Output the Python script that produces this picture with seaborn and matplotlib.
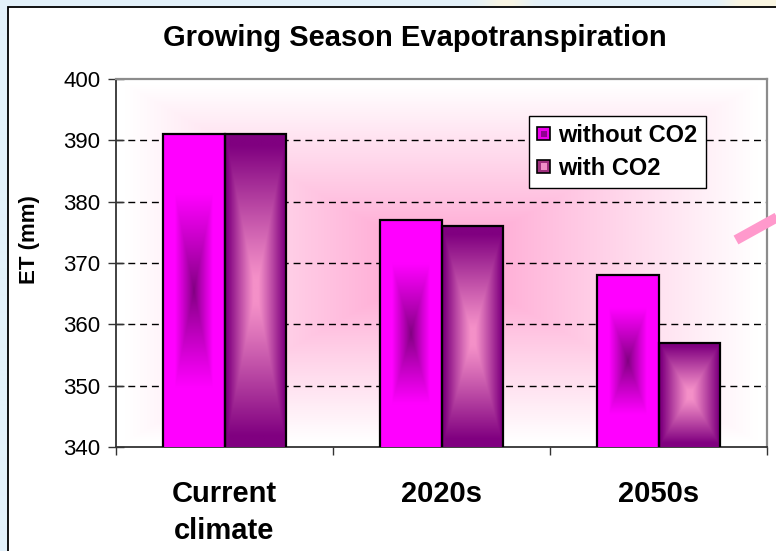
import numpy as np
import pandas as pd
import matplotlib
matplotlib.use("Agg")
import matplotlib.pyplot as plt
import matplotlib.colors as mcolors
import seaborn as sns
from matplotlib.patches import Rectangle
from matplotlib.lines import Line2D
from matplotlib.legend_handler import HandlerBase

# ---- data -------------------------------------------------------------
periods = ["Current\nclimate", "2020s", "2050s"]
scenarios = ["without CO2", "with CO2"]
et_without_co2 = [391, 377, 368]
et_with_co2 = [391, 376, 357]
y_ticks = [340, 350, 360, 370, 380, 390, 400]

# fill colours: (centre, edge) of each bar's box gradient
fill_without = ("#800080", "#FF00FF")
fill_with = ("#F490C8", "#800080")

plt.rcParams["font.family"] = ["Liberation Sans", "DejaVu Sans"]

W, H = 776, 551
fig = plt.figure(figsize=(W / 100, H / 100), dpi=100)
fig.patch.set_facecolor("white")

# ---- slide backdrop and chart frame ----------------------------------
bg = fig.add_axes([0, 0, 1, 1], zorder=-10)
bg.set_xlim(0, W)
bg.set_ylim(H, 0)
bg.axis("off")
xs = np.arange(W)
base = np.array([227, 241, 250]) / 255
warm = np.array([255, 247, 222]) / 255
wgt = 0.8 * np.exp(-((xs - 505) / 22.0) ** 2) + np.clip((xs - 715) / 25.0, 0, 1) * 0.85
wgt = np.clip(wgt, 0, 1)
strip = base[None, :] * (1 - wgt[:, None]) + warm[None, :] * wgt[:, None]
bg.imshow(strip[None, :, :], extent=(0, W, H, 0), aspect="auto", interpolation="bilinear")
bg.add_patch(Rectangle((8, 7), W + 20, H + 20, facecolor="white",
                       edgecolor="black", lw=1.3))


def box_t(nx, ny):
    gx = np.abs(np.linspace(-1, 1, nx))
    gy = np.abs(np.linspace(-1, 1, ny))
    return np.maximum(gx[None, :], gy[:, None])


def blend(c0, c1, s):
    a = np.array(mcolors.to_rgb(c0))
    b = np.array(mcolors.to_rgb(c1))
    return a + (b - a) * s[..., None]


# ---- plot area --------------------------------------------------------
ax = fig.add_axes([116 / W, 1 - 447 / H, (767 - 116) / W, (447 - 79) / H])
ax.set_facecolor("white")

t_bg = box_t(400, 300)
ax.imshow(blend("#FF99CC", "#FFFFFF", np.clip(t_bg / 0.97, 0, 1) ** 0.9),
          extent=(-0.5, 2.5, y_ticks[0], y_ticks[-1]), aspect="auto",
          interpolation="bilinear", zorder=0, origin="lower")

df = pd.DataFrame({
    "period": periods * 2,
    "scenario": [s for s in scenarios for _ in periods],
    "et": et_without_co2 + et_with_co2,
})

sns.barplot(data=df, x="period", y="et", hue="scenario", order=periods,
            hue_order=scenarios, width=0.57, palette=["#FF00FF", "#993399"],
            saturation=1, edgecolor="black", linewidth=1.6, legend=False,
            ax=ax, zorder=3)

ymin = y_ticks[0]
for container, (c_mid, c_edge), shaping in zip(
        ax.containers, [fill_without, fill_with],
        [lambda t: np.clip(t / 0.62, 0, 1) ** 0.9,
         lambda t: np.clip((t - 0.08) / 0.85, 0, 1) ** 1.1]):
    for bar in container:
        x0 = bar.get_x()
        w = bar.get_width()
        top = bar.get_y() + bar.get_height()
        ny = max(int(6 * (top - ymin)), 20)
        t = box_t(80, ny)
        ax.imshow(blend(c_mid, c_edge, shaping(t)),
                  extent=(x0, x0 + w, ymin, top), aspect="auto",
                  interpolation="bilinear", zorder=2.9, origin="lower")
        bar.set_facecolor("none")

for v in y_ticks[1:-1]:
    ax.axhline(v, color="black", lw=1.0, linestyle=(0, (5, 3.5)), zorder=1.5)

ax.set_xlim(-0.5, 2.5)
ax.set_ylim(y_ticks[0], y_ticks[-1])
ax.set_xlabel("")
ax.set_ylabel("")

ax.set_yticks(y_ticks)
ax.set_yticklabels([str(v) for v in y_ticks])
ax.tick_params(axis="y", direction="inout", length=11.5, width=1.0,
               color="#333333", labelsize=16, pad=5.5)

ax.set_xticks([-0.5, 0.5, 1.5, 2.5])
ax.set_xticklabels([])
ax.set_xticks([0, 1, 2], minor=True)
ax.set_xticklabels(periods, minor=True, fontsize=21, fontweight="bold",
                   linespacing=1.4)
ax.tick_params(axis="x", which="major", direction="out", length=6, width=1.0,
               color="#333333")
ax.tick_params(axis="x", which="minor", length=0, pad=24)

for side in ("left", "bottom"):
    ax.spines[side].set_color("#333333")
    ax.spines[side].set_linewidth(1.3)
for side in ("top", "right"):
    ax.spines[side].set_color("#8C8C8C")
    ax.spines[side].set_linewidth(1.6)

# ---- legend -------------------------------------------------------------
class GradSquare(HandlerBase):
    def __init__(self, outer, inner):
        super().__init__()
        self.outer = outer
        self.inner = inner

    def create_artists(self, legend, orig_handle, xdescent, ydescent,
                       width, height, fontsize, trans):
        s = min(width, height)
        x0 = -xdescent + (width - s) / 2
        y0 = -ydescent + (height - s) / 2
        outer = Rectangle((x0, y0), s, s, facecolor=self.outer,
                          edgecolor="black", lw=1.2, transform=trans)
        k = s * 0.5
        inner = Rectangle((x0 + (s - k) / 2, y0 + (s - k) / 2), k, k,
                          facecolor=self.inner, edgecolor="none",
                          transform=trans)
        return [outer, inner]


h_without = Rectangle((0, 0), 1, 1)
h_with = Rectangle((0, 0), 1, 1)
leg = ax.legend([h_without, h_with], scenarios,
                handler_map={h_without: GradSquare("#EE00EE", "#900090"),
                             h_with: GradSquare("#A0307F", "#F090C8")},
                loc="upper left", bbox_to_anchor=(529 / W, 1 - 116 / H),
                bbox_transform=fig.transFigure, borderaxespad=0,
                frameon=True, fancybox=False, edgecolor="black",
                framealpha=1, prop={"weight": "bold", "size": 17},
                handlelength=0.55, handleheight=0.55, handletextpad=0.35,
                borderpad=0.35, labelspacing=0.4)
leg.get_frame().set_linewidth(1.0)
leg.set_zorder(6)

# ---- titles ----------------------------------------------------------
fig.text(415 / W, 1 - 46 / H, "Growing Season Evapotranspiration",
         ha="center", va="baseline", fontsize=21, fontweight="bold")
fig.text(30 / W, 1 - 240 / H, "ET (mm)", rotation=90, ha="center",
         va="center", fontsize=16, fontweight="bold")

# decorative stroke on the right edge
fig.add_artist(Line2D([736 / W, 792 / W], [1 - 240 / H, 1 - 209 / H],
                      transform=fig.transFigure, color="#FF99CC", lw=7.2,
                      solid_capstyle="butt", zorder=10))

fig.savefig("out.png", dpi=100)
